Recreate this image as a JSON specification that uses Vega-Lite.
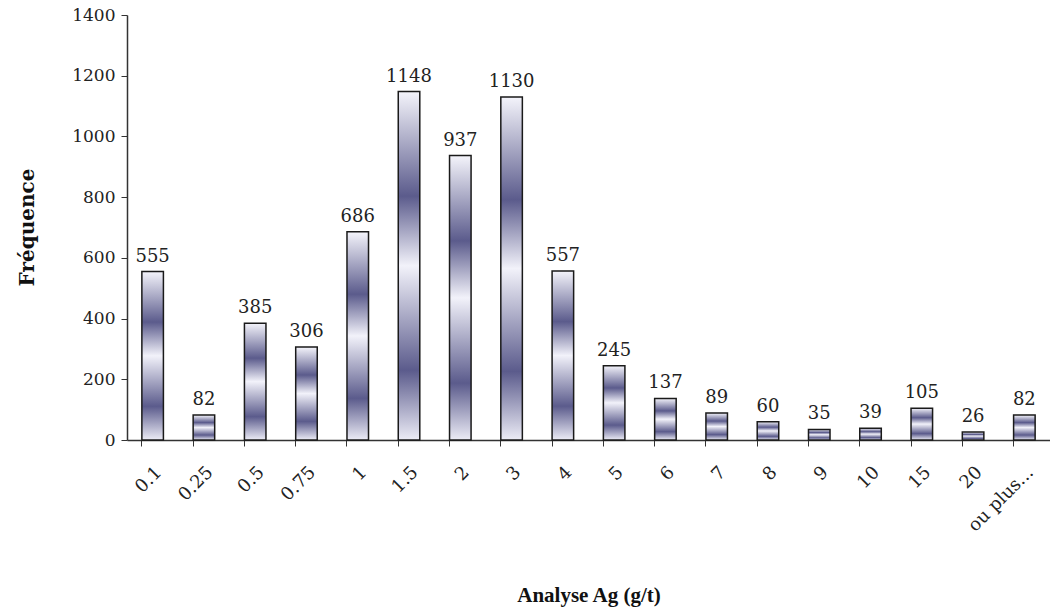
{
  "$schema": "https://vega.github.io/schema/vega-lite/v6.json",
  "width": 923,
  "height": 425,
  "autosize": {"type": "none"},
  "padding": {"left": 127, "top": 15, "right": 0, "bottom": 171},
  "background": "white",
  "config": {"view": {"stroke": null}, "font": "DejaVu Serif"},
  "data": {
    "values": [
      {"classe": "0.1", "freq": 555},
      {"classe": "0.25", "freq": 82},
      {"classe": "0.5", "freq": 385},
      {"classe": "0.75", "freq": 306},
      {"classe": "1", "freq": 686},
      {"classe": "1.5", "freq": 1148},
      {"classe": "2", "freq": 937},
      {"classe": "3", "freq": 1130},
      {"classe": "4", "freq": 557},
      {"classe": "5", "freq": 245},
      {"classe": "6", "freq": 137},
      {"classe": "7", "freq": 89},
      {"classe": "8", "freq": 60},
      {"classe": "9", "freq": 35},
      {"classe": "10", "freq": 39},
      {"classe": "15", "freq": 105},
      {"classe": "20", "freq": 26},
      {"classe": "ou plus...", "freq": 82}
    ]
  },
  "encoding": {
    "x": {
      "field": "classe",
      "type": "nominal",
      "sort": null,
      "scale": {"paddingInner": 0.58, "paddingOuter": 0.29},
      "axis": {
        "title": "Analyse Ag (g/t)",
        "titleFont": "Liberation Serif",
        "titleFontSize": 21,
        "titleFontWeight": "bold",
        "titleColor": "#111",
        "titleY": 155,
        "titleBaseline": "middle",
        "labelAngle": -45,
        "labelFont": "DejaVu Serif",
        "labelFontSize": 18,
        "labelColor": "#222",
        "labelPadding": 17,
        "bandPosition": 0,
        "tickSize": 6,
        "tickColor": "#333",
        "domainColor": "#333",
        "domainWidth": 1.5
      }
    },
    "y": {
      "field": "freq",
      "type": "quantitative",
      "scale": {"domain": [0, 1400]},
      "axis": {
        "title": "Fréquence",
        "titleFont": "DejaVu Serif",
        "titleFontSize": 20,
        "titleFontWeight": "bold",
        "titleColor": "#111",
        "titleX": -100,
        "titleY": 212,
        "titleAngle": -90,
        "titleBaseline": "middle",
        "titleAlign": "center",
        "values": [0, 200, 400, 600, 800, 1000, 1200, 1400],
        "format": "d",
        "labelFont": "DejaVu Serif",
        "labelFontSize": 17,
        "labelColor": "#222",
        "labelPadding": 6,
        "tickSize": 6,
        "tickColor": "#333",
        "domainColor": "#333",
        "domainWidth": 1.5,
        "grid": false
      }
    }
  },
  "layer": [
    {
      "mark": {
        "type": "bar",
        "stroke": "#1a1a1a",
        "strokeWidth": 1.5,
        "color": {
          "gradient": "linear",
          "x1": 0, "y1": 0, "x2": 0, "y2": 1,
          "stops": [
            {"offset": 0, "color": "#f4f4fb"},
            {"offset": 0.3, "color": "#5b5b8c"},
            {"offset": 0.5, "color": "#f2f2fa"},
            {"offset": 0.8, "color": "#5b5b8c"},
            {"offset": 1, "color": "#ececf6"}
          ]
        }
      }
    },
    {
      "mark": {"type": "text", "baseline": "bottom", "dy": -6, "fontSize": 18, "color": "#222", "font": "DejaVu Serif"},
      "encoding": {"text": {"field": "freq", "type": "quantitative"}}
    }
  ]
}
